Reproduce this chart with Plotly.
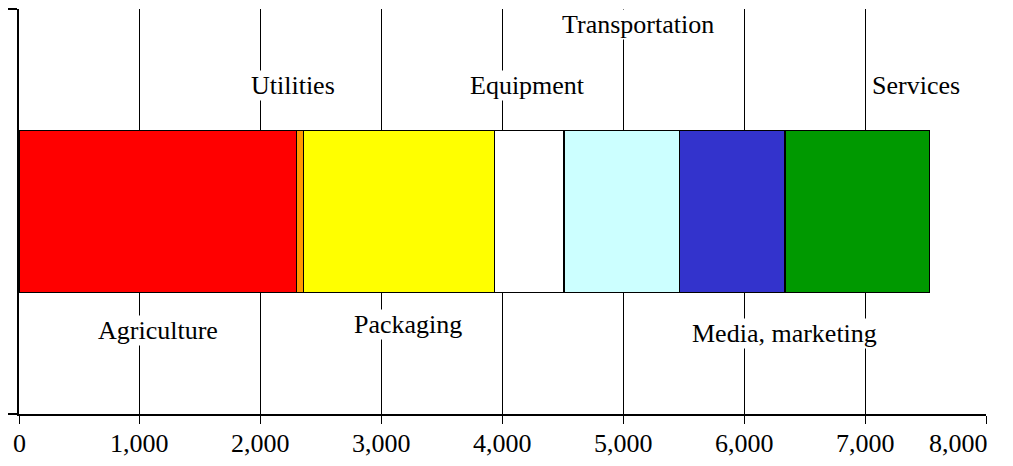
import plotly.graph_objects as go

# Data
categories = ["Agriculture", "Utilities", "Packaging", "Equipment",
              "Transportation", "Media, marketing", "Services"]
values = [2295, 57, 1581, 575, 956, 875, 1193]
tick_values = [0, 1000, 2000, 3000, 4000, 5000, 6000, 7000, 8000]
tick_labels = ["0", "1,000", "2,000", "3,000", "4,000", "5,000", "6,000", "7,000", "8,000"]

# Styling / layout (not data)
colors = ["#FF0000", "#FF9900", "#FFFF00", "#FFFFFF", "#CCFFFF", "#3333CC", "#009900"]
label_x = [1151, 2268, 3220, 4205, 5124, 6333, 7417]
label_y = [0.205, 0.81, 0.222, 0.81, 0.962, 0.20, 0.81]

FONT = "Liberation Serif, Times New Roman, serif"
FS = 26

fig = go.Figure()
for cat, val, col in zip(categories, values, colors):
    fig.add_trace(go.Bar(
        x=[val], y=[0], orientation="h", name=cat,
        marker=dict(color=col, line=dict(color="black", width=1.5)),
        width=0.4, showlegend=False, hoverinfo="x+name",
    ))

for cat, lx, ly in zip(categories, label_x, label_y):
    fig.add_annotation(
        x=lx, y=ly, xref="x", yref="paper", text=cat, showarrow=False,
        xanchor="center", yanchor="middle",
        font=dict(family=FONT, size=FS, color="black"),
        bgcolor="white", borderpad=0,
    )

# tick labels drawn as text under the axis (last one pulled inside the page)
for i, (tv, tl) in enumerate(zip(tick_values, tick_labels)):
    last = i == len(tick_values) - 1
    fig.add_annotation(
        x=tv, y=0, xref="x", yref="paper", yanchor="middle",
        xanchor="right" if last else "center", xshift=4 if last else 0,
        yshift=-29, text=tl, showarrow=False,
        font=dict(family=FONT, size=FS, color="black"),
    )

# page body has an 8px margin, so the figure is 8px smaller and shifted
fig.update_layout(
    barmode="stack",
    width=1005, height=458,
    margin=dict(l=11, r=27, t=1, b=52, autoexpand=False),
    paper_bgcolor="white", plot_bgcolor="white",
    font=dict(family=FONT, size=FS, color="black"),
)
fig.update_xaxes(
    range=[0, 8000], tickvals=tick_values, showticklabels=False,
    showgrid=True, gridcolor="black", gridwidth=1,
    showline=True, linecolor="black", linewidth=1.5,
    ticks="outside", ticklen=8, tickcolor="black", tickwidth=1,
    zeroline=False, automargin=False,
)
fig.update_yaxes(
    range=[-0.5, 0.5], tickvals=[-0.5, 0.5], showticklabels=False,
    showgrid=False, zeroline=False,
    showline=True, linecolor="black", linewidth=1.5,
    ticks="outside", ticklen=11, tickcolor="black", tickwidth=1.5,
    automargin=False,
)

fig.write_html("out.html")
